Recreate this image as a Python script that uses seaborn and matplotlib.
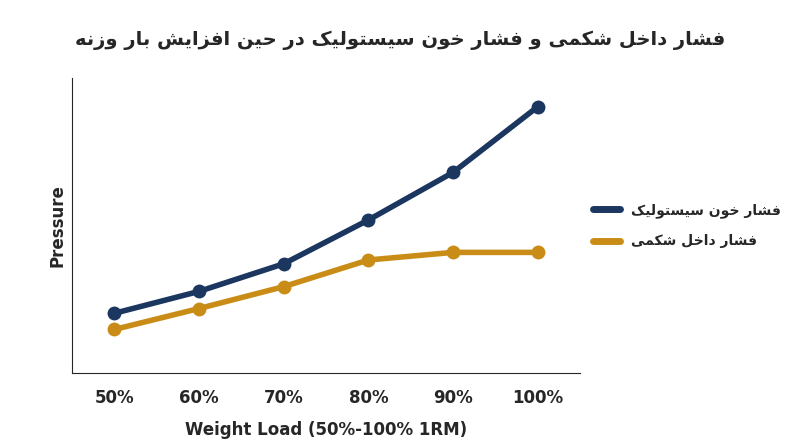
import matplotlib
matplotlib.use("Agg")
import matplotlib.pyplot as plt
from matplotlib.lines import Line2D
import seaborn as sns
import pandas as pd

loads = ["50%", "60%", "70%", "80%", "90%", "100%"]
systolic = [83, 106, 135, 181, 231, 300]
abdominal = [66, 88, 111, 139, 147, 147]

title_fa = "فشار داخل شکمی و فشار خون سیستولیک در حین افزایش بار وزنه"
label_sys = "فشار خون سیستولیک"
label_abd = "فشار داخل شکمی"
colors = ["#1b365f", "#c98d17"]

# minimal Persian shaping (matplotlib has no bidi/shaping)
FORMS = {
    "ف": (0xFED1, 0xFED2, 0xFED3, 0xFED4), "ش": (0xFEB5, 0xFEB6, 0xFEB7, 0xFEB8),
    "ا": (0xFE8D, 0xFE8E, None, None), "ر": (0xFEAD, 0xFEAE, None, None),
    "د": (0xFEA9, 0xFEAA, None, None), "خ": (0xFEA5, 0xFEA6, 0xFEA7, 0xFEA8),
    "ل": (0xFEDD, 0xFEDE, 0xFEDF, 0xFEE0), "ک": (0xFB8E, 0xFB8F, 0xFB90, 0xFB91),
    "م": (0xFEE1, 0xFEE2, 0xFEE3, 0xFEE4), "ی": (0xFBFC, 0xFBFD, 0xFBFE, 0xFBFF),
    "و": (0xFEED, 0xFEEE, None, None), "ن": (0xFEE5, 0xFEE6, 0xFEE7, 0xFEE8),
    "س": (0xFEB1, 0xFEB2, 0xFEB3, 0xFEB4), "ت": (0xFE95, 0xFE96, 0xFE97, 0xFE98),
    "ح": (0xFEA1, 0xFEA2, 0xFEA3, 0xFEA4), "ز": (0xFEAF, 0xFEB0, None, None),
    "ب": (0xFE8F, 0xFE90, 0xFE91, 0xFE92), "ه": (0xFEE9, 0xFEEA, 0xFEEB, 0xFEEC),
}


def shape(s):
    out = []
    for i, c in enumerate(s):
        if c not in FORMS:
            out.append(c)
            continue
        prev = s[i - 1] if i > 0 else ""
        nxt = s[i + 1] if i + 1 < len(s) else ""
        jp = prev in FORMS and FORMS[prev][2] is not None
        jn = FORMS[c][2] is not None and nxt in FORMS
        f = FORMS[c]
        code = f[3] if (jp and jn) else f[1] if jp else f[2] if jn else f[0]
        out.append(chr(code))
    return "".join(out)[::-1]


df = pd.DataFrame({
    "load": loads * 2,
    "value": systolic + abdominal,
    "series": [shape(label_sys)] * 6 + [shape(label_abd)] * 6,
})

sns.set_style("white")
plt.rcParams["font.family"] = ["DejaVu Sans"]
fig = plt.figure(figsize=(8, 4.47), dpi=100)
ax = fig.add_axes([0.09, 0.165, 0.635, 0.66])
sns.lineplot(data=df, x="load", y="value", hue="series", sort=False,
             palette=colors, marker="o", markersize=10,
             markeredgewidth=0, linewidth=4, ax=ax, legend=False)
ax.set_yticks([])
ax.set_ylim(20, 330)
ax.set_xlim(-0.5, 5.5)
ax.set_ylabel("Pressure", fontsize=12, fontweight="bold")
ax.set_xlabel("Weight Load (50%-100% 1RM)", fontsize=12, fontweight="bold", labelpad=10)
ax.tick_params(axis="x", labelsize=12, pad=8)
for t in ax.get_xticklabels():
    t.set_fontweight("bold")
sns.despine(ax=ax)
handles = [Line2D([], [], color=c, linewidth=5, solid_capstyle="round") for c in colors]
ax.legend(handles, [shape(label_sys), shape(label_abd)], loc="center left",
          bbox_to_anchor=(1.0, 0.5), frameon=False,
          prop={"size": 10, "weight": "bold"}, handlelength=2.0, labelspacing=1.2)
fig.text(0.5, 0.9, shape(title_fa), ha="center", fontsize=14, fontweight="bold")
fig.savefig("out.png", dpi=100)
